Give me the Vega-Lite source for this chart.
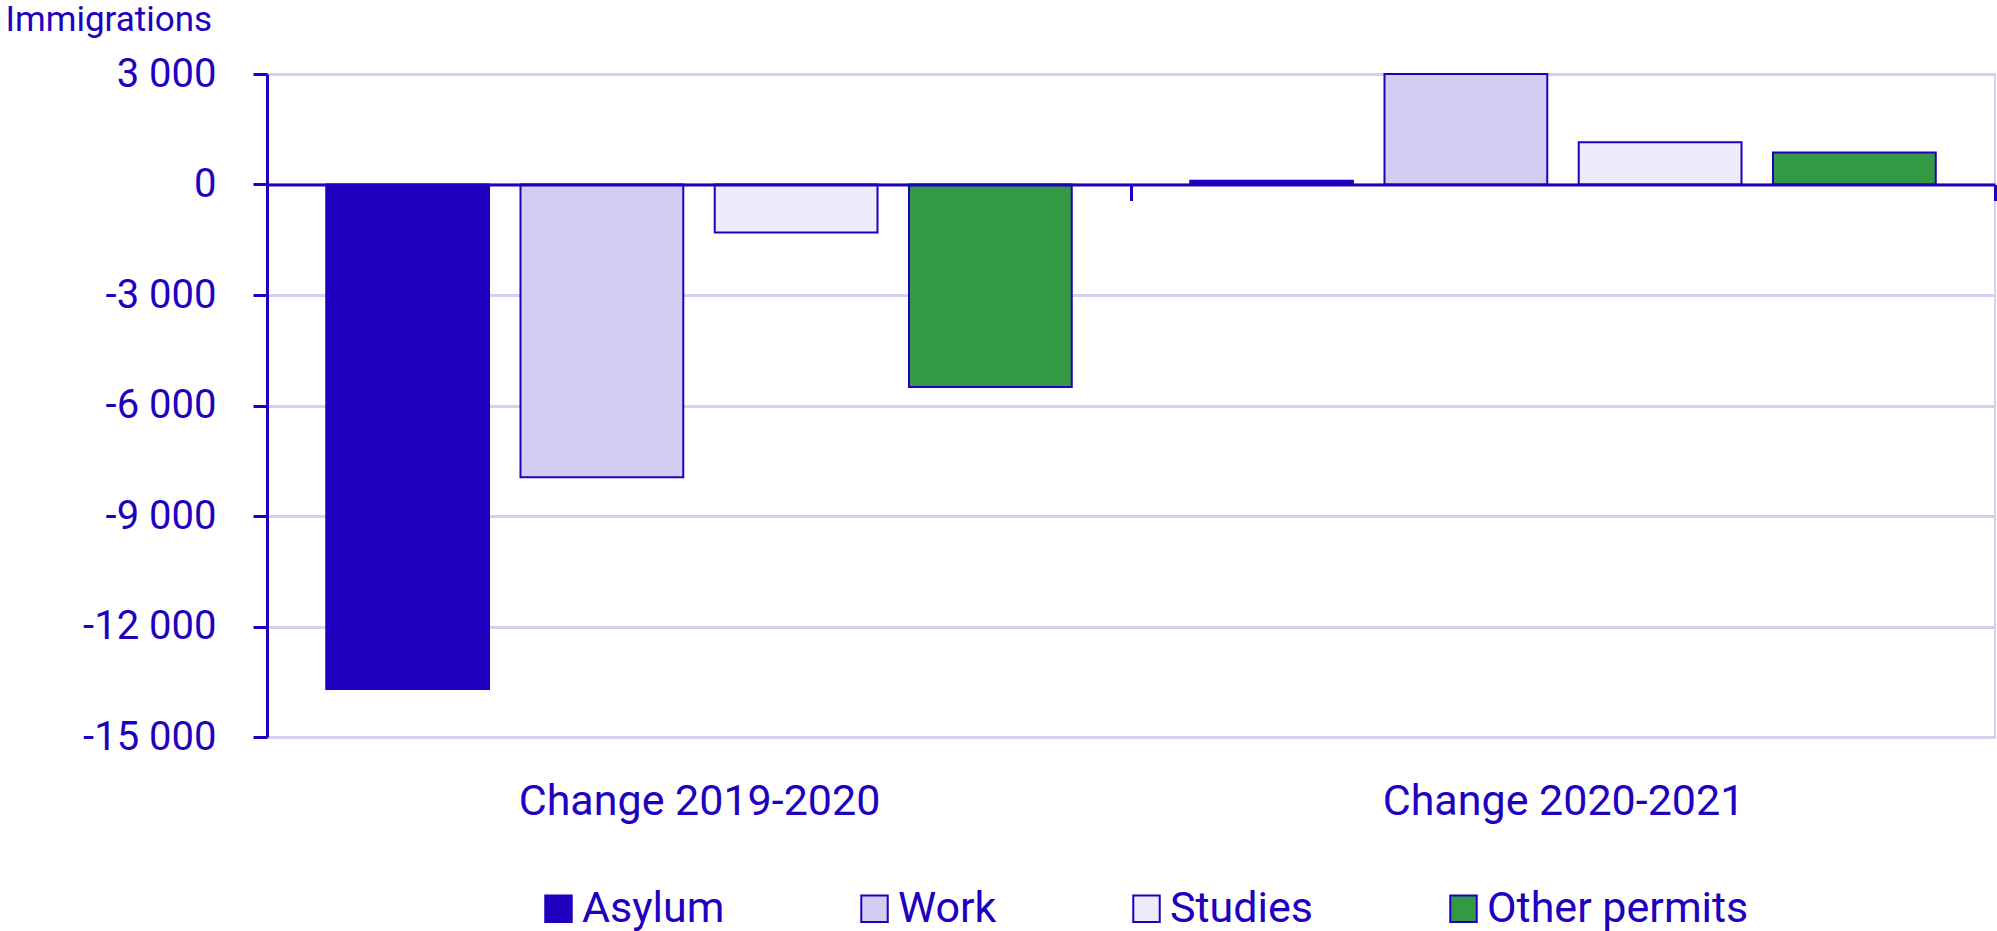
{
  "$schema": "https://vega.github.io/schema/vega-lite/v6.json",
  "width": 1728,
  "height": 663,
  "autosize": "none",
  "padding": {"left": 267, "top": 74, "right": 2, "bottom": 194},
  "background": "#ffffff",
  "config": {
    "locale": {"number": {"decimal": ",", "thousands": " ", "grouping": [3], "currency": ["", ""], "minus": "-"}},
    "font": "Roboto",
    "view": {"stroke": "#d2d2f0", "strokeWidth": 2}
  },
  "data": {
    "values": [
      {"period": "Change 2019-2020", "type": "Asylum", "value": -13700},
      {"period": "Change 2019-2020", "type": "Work", "value": -7950},
      {"period": "Change 2019-2020", "type": "Studies", "value": -1300},
      {"period": "Change 2019-2020", "type": "Other permits", "value": -5500},
      {"period": "Change 2020-2021", "type": "Asylum", "value": 100},
      {"period": "Change 2020-2021", "type": "Work", "value": 3000},
      {"period": "Change 2020-2021", "type": "Studies", "value": 1150},
      {"period": "Change 2020-2021", "type": "Other permits", "value": 870}
    ]
  },
  "mark": {"type": "bar", "stroke": "#1e00be", "strokeWidth": 2},
  "encoding": {
    "x": {
      "field": "period",
      "type": "nominal",
      "title": null,
      "scale": {"paddingInner": 0, "paddingOuter": 0},
      "axis": {
        "orient": "bottom",
        "offset": -552.5,
        "zindex": 1,
        "tickBand": "extent",
        "domainColor": "#1e00be",
        "domainWidth": 3,
        "tickColor": "#1e00be",
        "tickWidth": 3,
        "tickSize": 16,
        "labelAngle": 0,
        "labelFont": "Roboto",
        "labelFontSize": 43,
        "labelColor": "#1e00be",
        "labelPadding": 580,
        "labelLimit": 1000,
        "grid": false
      }
    },
    "xOffset": {
      "field": "type",
      "sort": ["Asylum", "Work", "Studies", "Other permits"],
      "scale": {"paddingInner": 0.162, "paddingOuter": 0.305}
    },
    "y": {
      "field": "value",
      "type": "quantitative",
      "scale": {"domain": [-15000, 3000], "nice": false, "zero": false},
      "axis": {
        "values": [-15000, -12000, -9000, -6000, -3000, 0, 3000],
        "format": ",d",
        "title": "Immigrations",
        "titleAngle": 0,
        "titleAlign": "left",
        "titleBaseline": "alphabetic",
        "titleX": -262,
        "titleY": -44,
        "titleFont": "Roboto",
        "titleFontSize": 35,
        "titleFontWeight": "normal",
        "titleColor": "#1e00be",
        "labelFont": "Roboto",
        "labelFontSize": 40,
        "labelColor": "#1e00be",
        "labelPadding": 37,
        "domainColor": "#1e00be",
        "domainWidth": 3,
        "tickColor": "#1e00be",
        "tickWidth": 3,
        "tickSize": 14,
        "gridColor": "#d2d2f0",
        "gridWidth": 3
      }
    },
    "color": {
      "field": "type",
      "type": "nominal",
      "scale": {
        "domain": ["Asylum", "Work", "Studies", "Other permits"],
        "range": ["#1e00be", "#d3cdf1", "#ececfb", "#339944"]
      },
      "legend": {
        "title": null,
        "orient": "none",
        "direction": "horizontal",
        "legendX": 270,
        "legendY": 813,
        "symbolType": "square",
        "symbolSize": 700,
        "symbolStrokeWidth": 2,
        "symbolStrokeColor": "#1e00be",
        "symbolOpacity": 1,
        "labelFont": "Roboto",
        "labelFontSize": 43,
        "labelColor": "#1e00be",
        "labelOffset": 2,
        "labelLimit": 500,
        "columnPadding": 128
      }
    }
  }
}
